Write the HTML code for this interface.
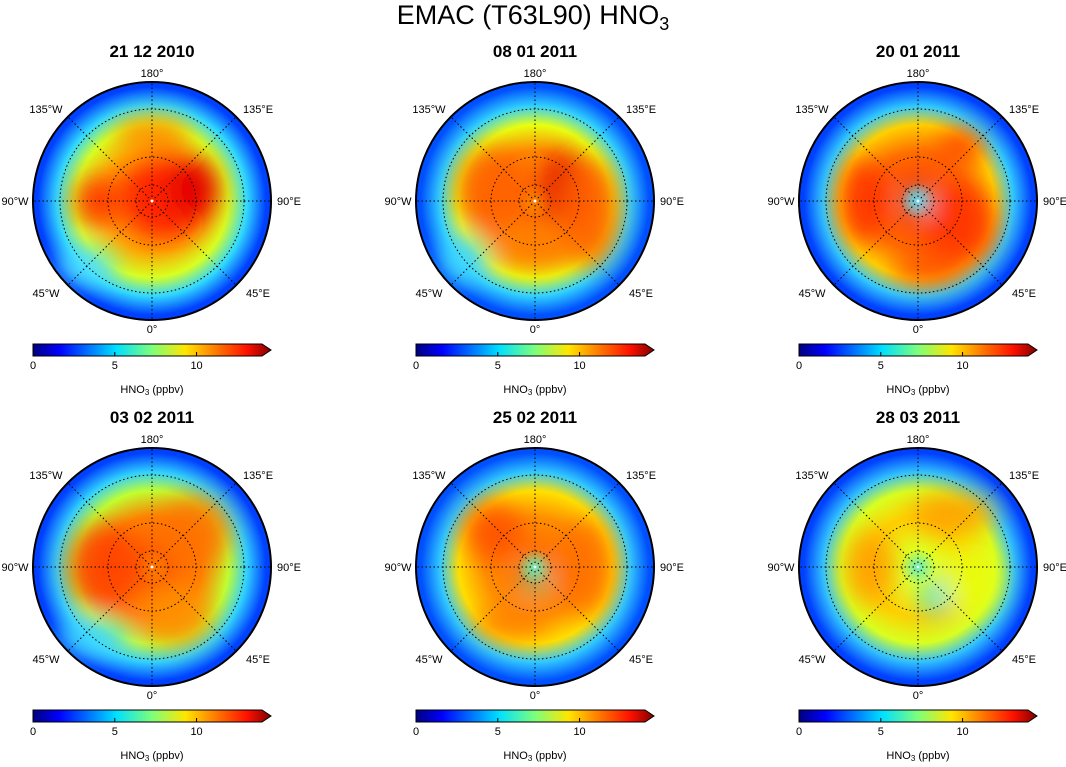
<!DOCTYPE html>
<html><head><meta charset="utf-8"><style>
body{margin:0;background:#fff;width:1066px;height:762px;overflow:hidden;font-family:"Liberation Sans","DejaVu Sans",sans-serif}
</style></head><body>
<svg id="fig" width="1066" height="762" xmlns="http://www.w3.org/2000/svg" font-family="Liberation Sans, DejaVu Sans, sans-serif">
<defs>
<linearGradient id="jet" x1="0" x2="1" y1="0" y2="0">
<stop offset="0" stop-color="#00007f"/><stop offset="0.11" stop-color="#0000ff"/><stop offset="0.35" stop-color="#00e0ff"/><stop offset="0.5" stop-color="#7dff7a"/><stop offset="0.64" stop-color="#ffe600"/><stop offset="0.78" stop-color="#ff7000"/><stop offset="0.9" stop-color="#ff1000"/><stop offset="1" stop-color="#800000"/>
</linearGradient>
<filter id="blur" x="-50%" y="-50%" width="200%" height="200%"><feGaussianBlur stdDeviation="12"/></filter>
</defs>
<text x="533" y="24" font-size="27" text-anchor="middle">EMAC (T63L90) HNO<tspan font-size="18" dy="6">3</tspan></text>
</svg>
<script>
const titles=["21 12 2010","08 01 2011","20 01 2011","03 02 2011","25 02 2011","28 03 2011"];
const cbTicks=[0,5,10];
const cbMax=14;
const meridianLabels=["180°","135°E","90°E","45°E","0°","45°W","90°W","135°W"];
const baseStops=[
 ["#ff3000","#ff5a00","#ffa000","#d8ff20","#30d8ff","#0040ff"],
 ["#ffb000","#ff7000","#ff8a00","#e8ff10","#30d0ff","#0050ff"],
 ["#40e0ff","#ff4000","#ff7000","#ffd000","#30c8ff","#0040ff"],
 ["#ffa000","#ff6000","#ff8000","#c0ff30","#30d0ff","#0040ff"],
 ["#60f0b0","#ff7000","#ff9000","#ffe000","#30c8ff","#0050ff"],
 ["#60f0c0","#e0ff20","#ffd000","#d8ff20","#30c0ff","#0040ff"]];
const blobs=[
 [[0.15,-0.05,0.35,0.35,"#ff2000"],[0.35,-0.1,0.2,0.25,"#e00000"],[-0.45,0,0.2,0.2,"#ff3000"],[0,-0.55,0.3,0.15,"#ff9000"],[-0.55,0.55,0.25,0.15,"#50e0ff"]],
 [[0.25,-0.1,0.2,0.3,"#e00000"],[-0.35,-0.1,0.3,0.35,"#ff6000"],[0.45,0.1,0.25,0.45,"#ff6000"],[0,0.4,0.35,0.15,"#ff8000"],[-0.6,0.5,0.2,0.2,"#40d8ff"]],
 [[-0.45,0,0.2,0.35,"#ff3000"],[0.35,0.2,0.3,0.35,"#ff3000"],[0.35,-0.45,0.2,0.15,"#ff4000"],[0.1,0.55,0.3,0.15,"#ff5000"],[0,0,0.1,0.1,"#40e8ff"]],
 [[-0.4,0,0.3,0.35,"#ff4000"],[0.35,-0.3,0.3,0.3,"#ff7000"],[0.2,0.4,0.3,0.25,"#ff9000"],[0,0,0.12,0.12,"#ff6000"],[-0.5,0.6,0.3,0.15,"#40d8ff"]],
 [[-0.35,-0.3,0.25,0.25,"#ff5000"],[0.4,0,0.25,0.4,"#ff7000"],[0,0.1,0.1,0.1,"#50f0d0"],[-0.2,0.45,0.3,0.15,"#ff8000"]],
 [[0.3,-0.45,0.35,0.18,"#ffa000"],[-0.4,0,0.2,0.3,"#ffa000"],[0.15,0.25,0.12,0.15,"#40e0ff"],[0.45,0.1,0.25,0.3,"#e8ff10"]]];
const NS="http://www.w3.org/2000/svg";
const svg=document.getElementById('fig');
function el(t,a,p){const e=document.createElementNS(NS,t);for(const k in a)e.setAttribute(k,a[k]);(p||svg).appendChild(e);return e;}
const R=119, latR=[16,44,92];
const defs=svg.querySelector('defs');
const cbW=229;
function cbx(v,ox){return ox+v/cbMax*cbW;}
titles.forEach((t,i)=>{
 const col=i%3,row=Math.floor(i/3);
 const cx=152+col*383,cy=201+row*366;
 const g=el('g',{});
 
 
 const tt=el('text',{x:cx,y:cy-144,'font-size':17,'font-weight':'bold','text-anchor':'middle'},g);tt.textContent=t;
 
 const rg=el('radialGradient',{id:'rg'+i,cx:0.5,cy:0.5,r:0.5},defs);
 const offs=[0,0.15,0.42,0.64,0.8,0.96];
 baseStops[i].forEach((c,k)=>el('stop',{offset:offs[k],'stop-color':c},rg));
 const cp=el('clipPath',{id:'cp'+i},defs);el('circle',{cx,cy,r:R},cp);
 const mg=el('g',{'clip-path':'url(#cp'+i+')'},g);
 const base=el('circle',{cx,cy,r:R,fill:'url(#rg'+i+')'},mg);
 
 const bg=el('g',{filter:'url(#blur)'},mg);
 blobs[i].forEach(b=>{const e=el('ellipse',{cx:cx+b[0]*R,cy:cy+b[1]*R,rx:b[2]*R,ry:b[3]*R,fill:b[4],opacity:0.9},bg);
  });
 latR.forEach(r=>{const c=el('circle',{cx,cy,r,fill:'none',stroke:'#000','stroke-width':1,'stroke-dasharray':'1.5 2.5'},g);
  });
 for(let k=0;k<8;k++){const a=k*Math.PI/4;
  const l=el('line',{x1:cx,y1:cy,x2:cx+R*Math.sin(a),y2:cy-R*Math.cos(a),stroke:'#000','stroke-width':1,'stroke-dasharray':'1.5 2.5'},g);
  
  let lx,ly;
  if(k%2){lx=cx+Math.sign(Math.sin(a))*106;ly=cy-Math.sign(Math.cos(a))*92+4;}
  else if(k%4===0){lx=cx;ly=cy-(R+9)*Math.cos(a)+4;}
  else{lx=cx+(R+18)*Math.sin(a);ly=cy+4;}
  const tx=el('text',{x:lx,y:ly,'font-size':11,'text-anchor':'middle'},g);
  tx.textContent=meridianLabels[k];
  }
 const oc=el('circle',{cx,cy,r:R,fill:'none',stroke:'#000','stroke-width':2},g);
 
 el('circle',{cx,cy,r:1.5,fill:'#fff'},g);
 const ox=33+col*383, cby=344+row*366;
 const cb=el('g',{},g);
 el('path',{d:`M${ox} ${cby}H${cbx(cbMax,ox)}L${cbx(cbMax,ox)+9} ${cby+6}L${cbx(cbMax,ox)} ${cby+12}H${ox}Z`,fill:'url(#jet)',stroke:'#000','stroke-width':1},cb);
 cbTicks.forEach(v=>{const x=cbx(v,ox);
  el('line',{x1:x,x2:x,y1:cby+12,y2:cby+8,stroke:'#000'},cb);
  const tl=el('text',{x,y:cby+25,'font-size':11,'text-anchor':'middle'},cb);tl.textContent=v;
  });
 const lab=el('text',{x:ox+119,y:cby+49,'font-size':11,'text-anchor':'middle'},cb);
 lab.innerHTML='HNO<tspan font-size="8" dy="2">3</tspan><tspan dy="-2"> (ppbv)</tspan>';
 
});
</script>
</body></html>
